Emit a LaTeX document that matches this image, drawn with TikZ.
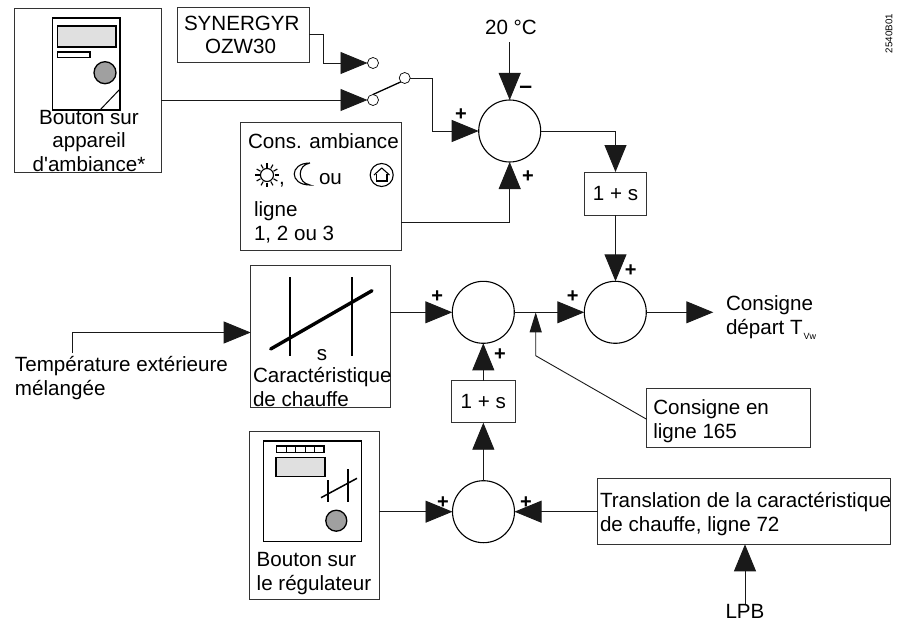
\documentclass[tikz,border=0pt]{standalone}
\usepackage{fontspec}
\setmainfont{Liberation Sans}
\newfontfamily\nomap{Liberation Sans}
\usetikzlibrary{arrows.meta}
\definecolor{screenfill}{HTML}{E0E0E0}
\definecolor{knobfill}{HTML}{A0A0A0}
\tikzset{
  x=1pt,y=-1pt,
  wire/.style={line width=0.9pt,draw=black!90},
  arr/.style={wire,-{Triangle[length=27pt,width=22pt]}},
  arrsmall/.style={wire,-{Triangle[length=20pt,width=12pt]}},
  box/.style={draw=black!80,line width=0.9pt,inner sep=0,outer sep=0,fill=none,font=\fontsize{20.6}{23.8}\selectfont},
  sumnode/.style={circle,draw=black,line width=1.1pt,minimum size=62pt,inner sep=0,outer sep=0},
  contact/.style={circle,draw=black,line width=0.7pt,minimum size=11pt,inner sep=0,outer sep=0,fill=white},
  txt/.style={inner sep=0,outer sep=0,anchor=base west,align=left,font=\fontsize{20.6}{23.8}\selectfont},
  txtc/.style={inner sep=0,outer sep=0,anchor=base,align=center,font=\fontsize{20.6}{23.8}\selectfont},
  sign/.style={inner sep=0,outer sep=0,font=\fontsize{20}{20}\selectfont\bfseries},
  device/.style={draw=black,line width=1.3pt},
  devthin/.style={draw=black,line width=1pt},
  icon/.style={draw=black,line width=1.1pt},
}
\begin{document}
\begin{tikzpicture}
\useasboundingbox (0,0) rectangle (898,626);
% boxes
\node[box,minimum width=147pt,minimum height=164.5pt] (dev) at (87.5,90.25) {};
\node[box,minimum width=132pt,minimum height=54.5pt] (syn) at (243,34.75) {};
\node[box,minimum width=161pt,minimum height=127.3pt] (cons) at (320.5,186.35) {};
\node[box,minimum width=62.4pt,minimum height=43pt] (gainA) at (615.5,193.5) {1 + s};
\node[box,minimum width=139.3pt,minimum height=142pt] (carac) at (320.35,336.3) {};
\node[box,minimum width=63.3pt,minimum height=42pt] (gainB) at (483.35,401.7) {1 + s};
\node[box,minimum width=130pt,minimum height=167.6pt] (reg) at (314.3,515.5) {};
\node[box,minimum width=163.3pt,minimum height=59.4pt] (ligne) at (728.35,418) {};
\node[box,minimum width=292.6pt,minimum height=65.6pt] (trans) at (744,511.5) {};
% summing points
\node[sumnode] (sumA) at (509.7,131) {};
\node[sumnode] (sumB) at (483.3,312.3) {};
\node[sumnode] (sumC) at (615.3,312.3) {};
\node[sumnode] (sumD) at (483.5,511.7) {};
% switch
\node[contact] (cA) at (373,63) {};
\node[contact] (cB) at (373,100) {};
\node[contact] (cC) at (404.7,78) {};
% texts (anchored on the baseline of their last line)
\node[txtc] (tDev) at (89,171.7) {Bouton sur\\appareil\\d{\nomap '}ambiance*};
\node[txt] (tSyn) at (184,30.7) {SYNERGYR};
\node[txt] (tOzw) at (205,54) {OZW30};
\node[txtc] (t20) at (511,35) {20 °C};
\node[txt] (tCons) at (248,148) {Cons. ambiance};
\node[txt] (tComma) at (279,184) {,};
\node[txt] (tOu) at (319,184) {ou};
\node[txt] (tLigne) at (254,240.7) {ligne\\1, 2 ou 3};
\node[txtc] (tS) at (322,360.7) {s};
\node[txt] (tCarac) at (253,406.7) {Caractéristique\\de chauffe};
\node[txt] (tExt) at (15,395) {Température extérieure\\mélangée};
\node[txt] (tOut) at (726,334) {Consigne\\départ T\hspace{1pt}\raisebox{-5pt}{\fontsize{9}{9}\selectfont Vw}};
\node[txt] (tLig) at (653.3,438.3) {Consigne en\\ligne 165};
\node[txt] (tTrans) at (600,531.7) {Translation de la caractéristique\\de chauffe, ligne 72};
\node[txt] (tReg) at (256.7,590) {Bouton sur\\le régulateur};
\node[txtc] (tLpb) at (745,618) {LPB};
\node[inner sep=0,rotate=90,anchor=west,font=\fontsize{9.8}{10}\selectfont] (tCode) at (889,53.5) {2540B01};
\coordinate (extStart) at (72.3,353);
\coordinate (ligneBend) at (535.7,355.7);
\coordinate (ligneTip) at (535.7,312.3);
\coordinate (outEnd) at (713.3,312.3);
% signs
\node[sign] (pA) at (461,115) {+};
\node[sign,font=\fontsize{23}{23}\selectfont\bfseries] (mA) at (525.7,90) {–};
\node[sign] (pB) at (528,177) {+};
\node[sign] (pC) at (630.7,270.7) {+};
\node[sign] (pD) at (572.7,296.7) {+};
\node[sign] (pE) at (437.3,296.7) {+};
\node[sign] (pF) at (500,355) {+};
\node[sign] (pG) at (443,503) {+};
\node[sign] (pH) at (526,503) {+};
% connectors
\draw[arr] (syn.east) -- ++(14,0) |- (cA.west);
\draw[arr] (cB.west -| dev.east) -- (cB.west);
\draw[line width=1.3pt] (cB.north) -- (cC.south west);
\draw[arr] (cC.east) -- ++(22.5,0) |- (sumA.west);
\draw[arr,shorten <=7pt] (t20.south -| sumA.north) -- (sumA.north);
\draw[arr] (cons.east |- 0,222) -| (sumA.south);
\draw[arr] (sumA.east) -| (gainA.north);
\draw[arr] (gainA.south) -- (sumC.north -| gainA.south);
\draw[arr] (extStart) |- (carac.west |- 0,332.5);
\draw[arr] (carac.east |- sumB.west) -- (sumB.west);
\draw[arr] (gainB.north -| sumB.south) -- (sumB.south);
\draw[arr] (sumD.north -| gainB.south) -- (gainB.south);
\draw[arr] (sumB.east) -- (sumC.west);
\draw[arr] (sumC.east) -- (outEnd);
\draw[arrsmall] (ligne.west |- 0,419.3) -- (ligneBend) -- (ligneTip);
\draw[arr] (reg.east |- sumD.west) -- (sumD.west);
\draw[arr] (trans.west |- sumD.east) -- (sumD.east);
\draw[arr] (tLpb.north) -- (trans.south -| tLpb.north);
% device 1
\draw[device] (52.7,18) rectangle (120,110);
\draw[device,fill=screenfill] (57.7,26) rectangle (116,47);
\draw[device] (57.3,52) rectangle (90,57.3);
\draw[device,fill=knobfill] (105,72.7) circle (11);
\draw[devthin] (100,110) -- (120,89);
% cons icons
\draw[icon] (267,175) circle (6.5);
\foreach \a in {0,30,...,330} \draw[icon] (267,175) ++(\a:7.5) -- ++(\a:4.5);
\draw[icon] (310,163) .. controls (289,163) and (289,185) .. (310,185) .. controls (297,183) and (297,165) .. (310,163);
\draw[icon] (381.7,175) circle (11.5);
\draw[icon,line join=round] (374,175) -- (381.7,168) -- (389.5,175);
\draw[icon] (376.5,173.5) -- (376.5,181) -- (387,181) -- (387,173.5);
% characteristic
\draw[line width=1.2pt] (290,277.3) -- (290,355.7);
\draw[line width=1.2pt] (352,277.3) -- (352,355.7);
\draw[line width=3.4pt,line cap=round] (270.7,349) -- (372,290.7);
% regulator device
\draw[device] (263.7,441) rectangle (361.3,541.7);
\draw[device] (276.7,446) rectangle (324,452.7);
\foreach \x in {286,295.5,305,314.5} \draw[devthin] (\x,446) -- (\x,452.7);
\draw[device,fill=screenfill] (276,457.3) rectangle (325,476.7);
\draw[line width=1.5pt] (321,497.7) -- (357,478.3);
\draw[line width=1.3pt] (328,480) -- (328,502.3);
\draw[line width=1.3pt] (348,469) -- (348,502.3);
\draw[device,fill=knobfill] (336.3,520.7) circle (10.5);
\end{tikzpicture}
\end{document}
